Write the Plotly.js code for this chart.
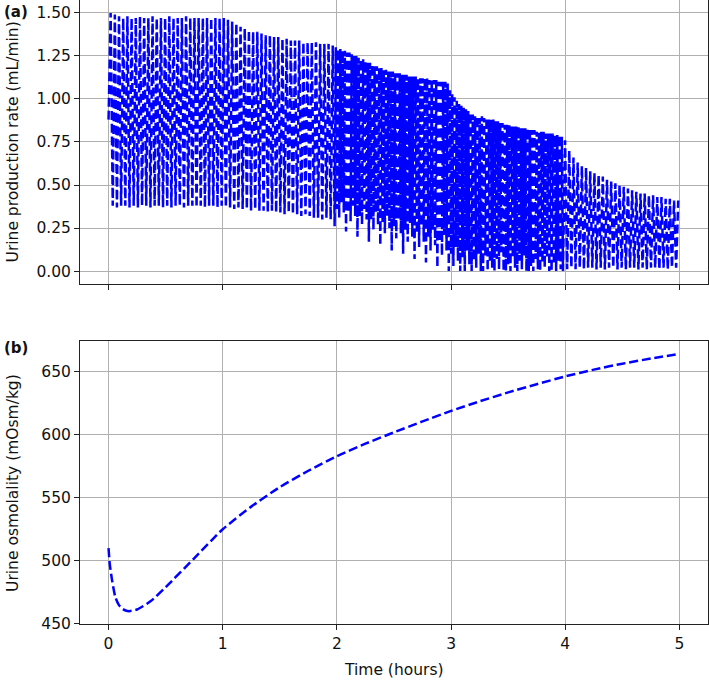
<!DOCTYPE html>
<html>
<head>
<meta charset="utf-8">
<script src="https://cdn.plot.ly/plotly-3.0.1.min.js"></script>
<style>
  html, body { margin: 0; padding: 0; background: #fff; }
  #plot { width: 709px; height: 680px; }
</style>
</head>
<body>
<div id="plot"></div>
<script>
// (a) urine production rate, read cycle by cycle (trough then peak), mL/min
// segment A: 0 - 2 h
const startA = 0, cycleA = 0.0367;
const troughsA = [0.88, 0.38, 0.37, 0.38, 0.38, 0.37, 0.38, 0.37, 0.38, 0.38,
  0.37, 0.38, 0.38, 0.37, 0.38, 0.37, 0.38, 0.38, 0.37, 0.38,
  0.38, 0.37, 0.38, 0.37, 0.38, 0.38, 0.37, 0.38, 0.37, 0.37,
  0.36, 0.37, 0.36, 0.36, 0.35, 0.36, 0.35, 0.35, 0.34, 0.35,
  0.34, 0.34, 0.33, 0.34, 0.33, 0.33, 0.32, 0.33, 0.32, 0.31,
  0.31, 0.30, 0.31, 0.30];
const peaksA = [1.50, 1.49, 1.48, 1.47, 1.48, 1.47, 1.47, 1.48, 1.47, 1.47,
  1.48, 1.47, 1.47, 1.47, 1.48, 1.47, 1.47, 1.47, 1.48, 1.47,
  1.47, 1.47, 1.47, 1.47, 1.47, 1.47, 1.47, 1.47, 1.46, 1.45,
  1.44, 1.42, 1.41, 1.40, 1.39, 1.39, 1.38, 1.37, 1.37, 1.36,
  1.36, 1.35, 1.35, 1.34, 1.34, 1.34, 1.33, 1.33, 1.33, 1.33,
  1.32, 1.32, 1.32, 1.31];
// segment B: 2 - 4 h (denser, deeper troughs)
const startB = 1.98, cycleB = 0.02;
const troughsB = [
  0.26, 0.36, 0.31, 0.40, 0.34, 0.23, 0.34, 0.29, 0.38, 0.32,
  0.20, 0.32, 0.27, 0.36, 0.30, 0.17, 0.30, 0.24, 0.34, 0.27,
  0.15, 0.28, 0.22, 0.32, 0.25, 0.12, 0.26, 0.19, 0.30, 0.22,
  0.10, 0.24, 0.17, 0.28, 0.20, 0.07, 0.22, 0.14, 0.26, 0.17,
  0.05, 0.20, 0.12, 0.24, 0.15, 0.02, 0.17, 0.09, 0.21, 0.12,
  0.00, 0.10, 0.03, 0.14, 0.06, 0.00, 0.08, 0.00, 0.12, 0.04,
  0.00, 0.06, 0.02, 0.10, 0.00, 0.00, 0.09, 0.00, 0.05, 0.02,
  0.00, 0.07, 0.01, 0.11, 0.00, 0.00, 0.04, 0.00, 0.08, 0.02,
  0.00, 0.06, 0.01, 0.09, 0.00, 0.00, 0.03, 0.00, 0.07, 0.01,
  0.00, 0.05, 0.02, 0.08, 0.00, 0.00, 0.04, 0.00, 0.06, 0.01];
const peaksB = [
  1.30, 1.29, 1.29, 1.28, 1.28, 1.27, 1.27, 1.26, 1.25, 1.25,
  1.24, 1.23, 1.23, 1.22, 1.21, 1.21, 1.20, 1.19, 1.19, 1.18,
  1.18, 1.17, 1.17, 1.16, 1.16, 1.16, 1.15, 1.15, 1.15, 1.14,
  1.14, 1.14, 1.13, 1.13, 1.13, 1.13, 1.12, 1.12, 1.12, 1.12,
  1.12, 1.11, 1.11, 1.11, 1.11, 1.10, 1.10, 1.10, 1.10, 1.09,
  1.05, 1.03, 1.01, 0.99, 0.97, 0.96, 0.95, 0.94, 0.93, 0.92,
  0.91, 0.90, 0.90, 0.89, 0.90, 0.89, 0.89, 0.88, 0.88, 0.88,
  0.87, 0.87, 0.86, 0.86, 0.85, 0.85, 0.85, 0.84, 0.84, 0.84,
  0.84, 0.83, 0.83, 0.83, 0.83, 0.82, 0.82, 0.82, 0.81, 0.81,
  0.81, 0.81, 0.80, 0.80, 0.80, 0.80, 0.79, 0.79, 0.79, 0.78];
// segment C: 4 - 5 h
const startC = 3.98, cycleC = 0.0367;
const troughsC = [0.00, 0.01, 0.02, 0.01, 0.02, 0.01, 0.02, 0.02, 0.01, 0.02,
  0.01, 0.02, 0.02, 0.01, 0.02, 0.01, 0.02, 0.02, 0.01, 0.02,
  0.01, 0.02, 0.02, 0.01, 0.02, 0.01, 0.02, 0.02];
const peaksC = [0.76, 0.70, 0.66, 0.63, 0.61, 0.60, 0.58, 0.57, 0.56, 0.55,
  0.53, 0.52, 0.51, 0.50, 0.49, 0.48, 0.47, 0.46, 0.45, 0.45,
  0.44, 0.44, 0.43, 0.43, 0.42, 0.42, 0.41, 0.41];

// (b) urine osmolality, mOsm/kg
const tOsm = [0, 0.01, 0.03, 0.06, 0.09, 0.12, 0.15, 0.18, 0.25, 0.37, 0.5, 0.75, 1.0,
  1.25, 1.5, 1.75, 2.0, 2.25, 2.5, 2.75, 3.0, 3.25, 3.5, 3.75, 4.0, 4.25, 4.5, 4.75, 5.0];
const osm = [510, 498, 485, 471, 465, 462, 460.5, 460, 461.3, 468, 479, 502, 525,
  543, 558.5, 571.5, 583, 593, 602, 610.7, 619, 626.6, 633.7, 640.2, 646.4, 651.8, 656.5, 660.6, 664.3];

const xTicks = [0, 1, 2, 3, 4, 5];
const rateTicks = [0, 0.25, 0.5, 0.75, 1.0, 1.25, 1.5];
const osmTicks = [450, 500, 550, 600, 650];

// put troughs and peaks of each segment on one time line
const tRate = [], rate = [];
function addSegment(start, cycle, troughs, peaks) {
  for (let i = 0; i < troughs.length; i++) {
    tRate.push(start + i * cycle);
    rate.push(troughs[i]);
    tRate.push(start + i * cycle + cycle / 2);
    rate.push(peaks[i]);
  }
}
addSegment(startA, cycleA, troughsA, peaksA);
addSegment(startB, cycleB, troughsB, peaksB);
addSegment(startC, cycleC, troughsC, peaksC);

const lineStyle = { color: '#0000ff', width: 2.5, dash: '9px,3.8px' };

const trace1 = {
  x: tRate, y: rate, type: 'scatter', mode: 'lines',
  line: lineStyle, xaxis: 'x', yaxis: 'y', hoverinfo: 'skip'
};
const trace2 = {
  x: tOsm, y: osm, type: 'scatter', mode: 'lines',
  line: Object.assign({ shape: 'spline', smoothing: 0.6 }, lineStyle),
  xaxis: 'x2', yaxis: 'y2', hoverinfo: 'skip'
};

const font = { family: 'DejaVu Sans, sans-serif', size: 15.5, color: '#111' };

const axisBase = {
  showline: true, mirror: true, linecolor: '#222', linewidth: 1,
  showgrid: true, gridcolor: '#b0b0b0', gridwidth: 1,
  zeroline: false, ticks: 'outside', ticklen: 5, tickwidth: 1, tickcolor: '#222',
  tickfont: font
};

const layout = {
  width: 709, height: 680,
  margin: { l: 80, r: 1, t: 0, b: 56 },
  paper_bgcolor: '#fff', plot_bgcolor: '#fff',
  showlegend: false,
  font: font,
  xaxis: Object.assign({}, axisBase, {
    domain: [0, 1], anchor: 'y', range: [-0.25, 5.25],
    tickvals: xTicks, showticklabels: false
  }),
  yaxis: Object.assign({}, axisBase, {
    domain: [0.5449, 1], anchor: 'x', range: [-0.075, 1.575],
    tickvals: rateTicks, tickformat: '.2f'
  }),
  xaxis2: Object.assign({}, axisBase, {
    domain: [0, 1], anchor: 'y2', range: [-0.25, 5.25],
    tickvals: xTicks
  }),
  yaxis2: Object.assign({}, axisBase, {
    domain: [0, 0.4535], anchor: 'x2', range: [449.8, 674.5],
    tickvals: osmTicks
  }),
  annotations: [
    { text: 'Urine production rate (mL/min)', xref: 'paper', yref: 'paper',
      x: -0.106, y: 0.7724, xanchor: 'center', yanchor: 'middle',
      textangle: -90, showarrow: false, font: font },
    { text: 'Urine osmolality (mOsm/kg)', xref: 'paper', yref: 'paper',
      x: -0.106, y: 0.2268, xanchor: 'center', yanchor: 'middle',
      textangle: -90, showarrow: false, font: font },
    { text: 'Time (hours)', xref: 'paper', yref: 'paper',
      x: 0.5, y: -0.0737, xanchor: 'center', yanchor: 'middle',
      showarrow: false, font: font },
    { text: '<b>(a)</b>', xref: 'paper', yref: 'paper',
      x: -0.102, y: 0.9808, xanchor: 'center', yanchor: 'middle',
      showarrow: false, font: Object.assign({}, font, { size: 15 }) },
    { text: '<b>(b)</b>', xref: 'paper', yref: 'paper',
      x: -0.102, y: 0.4423, xanchor: 'center', yanchor: 'middle',
      showarrow: false, font: Object.assign({}, font, { size: 15 }) }
  ]
};

Plotly.newPlot('plot', [trace1, trace2], layout, { staticPlot: true });
</script>
</body>
</html>
